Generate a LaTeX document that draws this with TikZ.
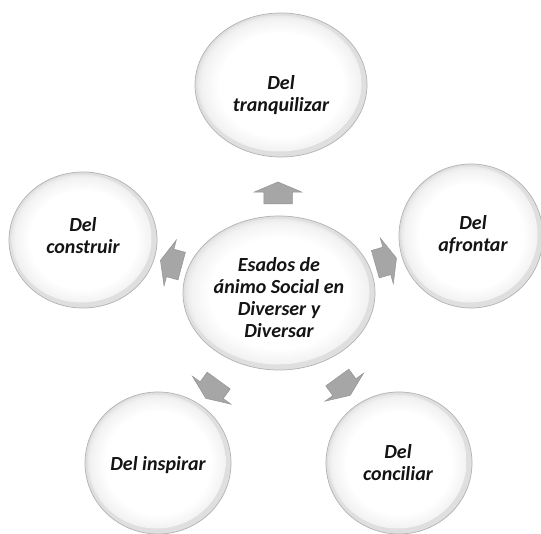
\documentclass[tikz,border=0pt]{standalone}
\usepackage{fontspec}
\setmainfont{Carlito}
\usetikzlibrary{shapes.geometric,shapes.arrows}
\pgfdeclareradialshading{bubbleshade}{\pgfpoint{0bp}{0bp}}{color(0bp)=(white); color(18bp)=(white); color(23bp)=(black!5); color(25bp)=(black!11); color(50bp)=(black!11)}
\tikzset{
  bubble/.style n args={2}{ellipse, minimum width={2*#1pt}, minimum height={2*#2pt}, inner sep=0pt,
    draw=gray!60, line width=0.7pt, fill=gray!25,
    path picture={\shade[shading=bubbleshade]
      ([shift={(-1.5pt,1.5pt)}]path picture bounding box.center) ellipse [x radius={#1pt-4pt}, y radius={#2pt-4pt}];}},
  lbl/.style={font=\bfseries\itshape\fontsize{20}{22}\selectfont, text=black!92, align=center, inner sep=0pt},
  blockarrow/.style={single arrow, draw=gray!85, line width=0.5pt, fill=gray!70,
    inner xsep=0pt, inner ysep=14pt, single arrow head extend=9.5pt, minimum height=22pt,
    single arrow tip angle=134}
}
\begin{document}
\begin{tikzpicture}[x=1pt,y=-1pt]
\useasboundingbox (0,0) rectangle (541,534);
% circles
\node[bubble={96}{77}] (c) at (279,293) {};
\node[bubble={86}{72}] (t) at (281,85) {};
\node[bubble={74}{68}] (l) at (83,240) {};
\node[bubble={72}{72}] (r) at (471,236) {};
\node[bubble={73}{71}] (bl) at (158,463) {};
\node[bubble={73}{71}] (br) at (399,463) {};
% labels
\node[lbl] (tc) at (279,298) {Esados de\\ánimo Social en\\Diverser y\\Diversar};
\node[lbl] (tt) at (281,95) {Del\\tranquilizar};
\node[lbl] (tl) at (83,236) {Del\\construir};
\node[lbl] (tr) at (473,235) {Del\\afrontar};
\node[lbl] (tbl) at (158,465) {Del inspirar};
\node[lbl] (tbr) at (398,463) {Del\\conciliar};
% arrows
\node[blockarrow, rotate=90] (at) at (278,196) {};
\node[blockarrow, rotate=165] (al) at (174,264) {};
\node[blockarrow, rotate=16] (ar) at (383,262) {};
\node[blockarrow, rotate=234] (abl) at (214,387) {};
\node[blockarrow, rotate=306] (abr) at (342,384) {};
\end{tikzpicture}
\end{document}
